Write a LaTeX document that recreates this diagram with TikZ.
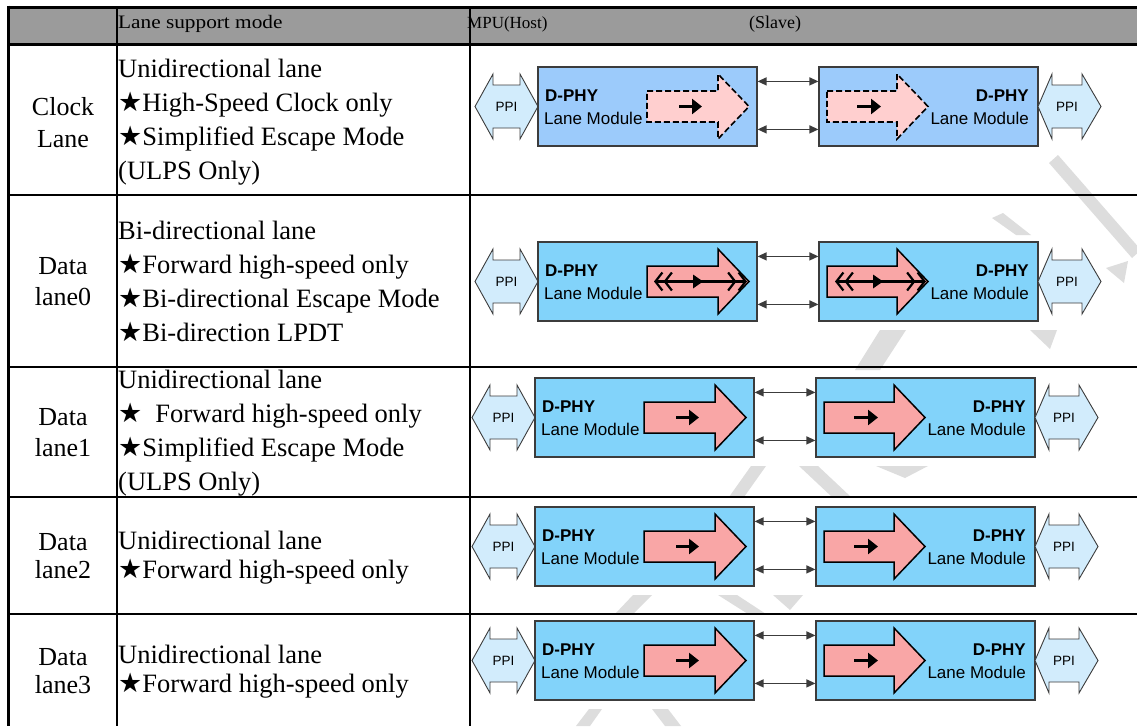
\documentclass[tikz,border=0pt]{standalone}
\usepackage{fontspec}
\setmainfont{Liberation Serif}
\newfontfamily\diagfont{Liberation Sans}
\newfontfamily\starfont{DejaVu Sans}
\usetikzlibrary{arrows.meta}

\definecolor{hdrgray}{HTML}{9B9B9B}
\definecolor{clkblue}{HTML}{9CCBFB}
\definecolor{datblue}{HTML}{82D3FA}
\definecolor{ppiblue}{HTML}{D2ECFC}
\definecolor{clkpink}{HTML}{FFCFCF}
\definecolor{datpink}{HTML}{F9A6A6}
\definecolor{edge}{HTML}{3C3C3C}
\definecolor{stamp}{HTML}{DDDDDD}

\newcommand\st{{\starfont\fontsize{27}{27}\selectfont ★}}

\tikzset{
  outerrule/.style={line width=3pt, black},
  cellrule/.style={line width=2pt, black},
  hdrtext/.style={inner sep=0pt, anchor=west, font=\fontsize{17}{20}\selectfont},
  bodytext/.style={inner sep=0pt, anchor=west, align=left},
  lanename/.style={inner sep=0pt, align=center},
  lanebox/.style={draw=edge, line width=1.2pt, minimum width=219pt, minimum height=79pt, inner sep=0pt},
  ppishape/.style={draw=edge, line width=0.9pt, fill=ppiblue, line join=miter},
  ppitext/.style={inner sep=0pt, font=\diagfont\fontsize{13.5}{14}\selectfont},
  modtext/.style={inner sep=0pt, font=\diagfont\fontsize{17}{18}\selectfont},
  wire/.style={draw=edge, line width=1.3pt, {Triangle[length=9pt,width=8pt]}-{Triangle[length=9pt,width=8pt]}},
  hsarrow/.style={draw=black, line width=1.5pt, fill=datpink, line join=miter},
  lpsarrow/.style={draw=black, line width=1.6pt, dash pattern=on 6pt off 3pt, fill=clkpink},
  fwd/.style={line width=3pt, -{Triangle[length=10pt,width=15pt]}},
  bidir/.style={line width=2.2pt,
    {Straight Barb[length=7pt,width=18pt,sep=1pt] Straight Barb[length=7pt,width=18pt]}-{Straight Barb[length=7pt,width=18pt,sep=1pt] Straight Barb[length=7pt,width=18pt]}},
  stampmark/.style={fill=stamp, draw=none},
}

% #1 id, #2 top of boxes, #3 host box x, #4 slave box x, #5 box colour,
% #6 lane arrow style, #7 inner mark (0 = forward, 1 = bidirectional)
\newcommand\lanepair[7]{%
  \begin{scope}[shift={(#3,#2)}]
    \draw[ppishape] (-63,39.5) -- (-45,7) -- (-45,18) -- (-18,18) -- (-18,7) -- (0,39.5)
      -- (-18,72) -- (-18,61) -- (-45,61) -- (-45,72) -- cycle;
    \node[ppitext] (#1hppi) at (-31.5,39.5) {PPI};
    \node[lanebox, fill=#5] (#1h) at (109.5,39.5) {};
    \node[modtext, anchor=west] (#1hname) at (7,29) {\bfseries D-PHY};
    \node[modtext, anchor=west] (#1hmod) at (6,51) {Lane Module};
    \draw[#6] (109,24) -- (180,24) -- (180,7) -- (211,39.5) -- (180,72) -- (180,55) -- (109,55) -- cycle;
    \ifnum#7=0
      \draw[fwd] (141,39.5) -- (164,39.5);
    \else
      \draw[bidir] (115,39.5) -- (209,39.5);
      \fill (155,32.5) -- (165,39.5) -- (155,46.5) -- cycle;
    \fi
  \end{scope}
  \begin{scope}[shift={(#4,#2)}]
    \node[lanebox, fill=#5] (#1s) at (109.5,39.5) {};
    \draw[ppishape] (219,39.5) -- (233,7) -- (233,18) -- (263,18) -- (263,7) -- (282,39.5)
      -- (263,72) -- (263,61) -- (233,61) -- (233,72) -- cycle;
    \node[ppitext] (#1sppi) at (248,39.5) {PPI};
    \node[modtext, anchor=east] (#1sname) at (210,29) {\bfseries D-PHY};
    \node[modtext, anchor=east] (#1smod) at (210,51) {Lane Module};
    \draw[#6] (8,24) -- (78,24) -- (78,7) -- (109,39.5) -- (78,72) -- (78,55) -- (8,55) -- cycle;
    \ifnum#7=0
      \draw[fwd] (38,39.5) -- (62,39.5);
    \else
      \draw[bidir] (15,39.5) -- (107,39.5);
      \fill (54,32.5) -- (64,39.5) -- (54,46.5) -- cycle;
    \fi
  \end{scope}
  \draw[wire] ([yshift=-15pt]#1h.north east) -- ([yshift=-15pt]#1s.north west);
  \draw[wire] ([yshift=-63pt]#1h.north east) -- ([yshift=-63pt]#1s.north west);
}

\begin{document}
\begin{tikzpicture}[x=1pt, y=-1pt]
  \useasboundingbox (0,0) rectangle (1137,726);
  \fill[white] (0,0) rectangle (1137,726);

  % faint background stamp showing between the lane pictures
  \fill[stampmark] (1049,163) -- (1058,155) -- (1141,250) -- (1132,258) -- cycle;
  \fill[stampmark] (992,218) -- (1003,213) -- (1031,235) -- (1016,235) -- cycle;
  \fill[stampmark] (1106,268) -- (1128,261) -- (1124,283) -- cycle;
  \fill[stampmark] (880,330) -- (906,330) -- (880,370) -- (855,370) -- cycle;
  \fill[stampmark] (1030,330) -- (1057,330) -- (1050,349) -- cycle;
  \fill[stampmark] (751,466) -- (766,466) -- (744,497) -- (729,497) -- cycle;
  \fill[stampmark] (799,466) -- (818,466) -- (851,497) -- (832,497) -- cycle;
  \fill[stampmark] (876,466) -- (928,466) -- (905,478) -- cycle;
  \fill[stampmark] (633,595) -- (652,595) -- (633,614) -- (615,614) -- cycle;
  \fill[stampmark] (718,595) -- (737,595) -- (766,614) -- (748,614) -- cycle;
  \fill[stampmark] (773,595) -- (803,595) -- (790,610) -- cycle;
  \fill[stampmark] (589,709) -- (602,709) -- (590,726) -- (576,726) -- cycle;
  \fill[stampmark] (652,709) -- (668,709) -- (681,726) -- (665,726) -- cycle;

  % header band
  \fill[hdrgray] (8,7) rectangle (1137,44);
  \node[hdrtext] (hmode) at (118,24) {\scalebox{1.12}[1]{\fontsize{19}{20}\selectfont Lane support mode}};
  \node[hdrtext] (hhost) at (467,24) {MPU(Host)};
  \node[hdrtext] (hslave) at (749,24) {\fontsize{18}{20}\selectfont (Slave)};

  % table rules
  \draw[cellrule] (117,7) -- (117,726);
  \draw[cellrule] (470,7) -- (470,726);
  \foreach \yy in {195,367,497,614} \draw[cellrule] (8,\yy) -- (1137,\yy);
  \draw[outerrule] (8,7) -- (1137,7);
  \draw[outerrule] (8,44) -- (1137,44);
  \draw[outerrule] (8.5,5.5) -- (8.5,726);

  % lane names
  \node[lanename, font=\fontsize{26}{32}\selectfont] (n1) at (63,123) {Clock\\Lane};
  \node[lanename, font=\fontsize{26}{31}\selectfont] (n2) at (63,282) {Data\\lane0};
  \node[lanename, font=\fontsize{26}{31}\selectfont] (n3) at (63,433) {Data\\lane1};
  \node[lanename, font=\fontsize{26}{28}\selectfont] (n4) at (63,556) {Data\\lane2};
  \node[lanename, font=\fontsize{26}{28}\selectfont] (n5) at (63,671) {Data\\lane3};

  % supported modes
  \node[bodytext, font=\fontsize{26.5}{34}\selectfont] (m1) at (118,122)
    {Unidirectional lane\\\st High-Speed Clock only\\\st Simplified Escape Mode\\(ULPS Only)};
  \node[bodytext, font=\fontsize{26.5}{34}\selectfont] (m2) at (118,281)
    {Bi-directional lane\\\st Forward high-speed only\\\st Bi-directional Escape Mode\\\st Bi-direction LPDT};
  \node[bodytext, font=\fontsize{26.5}{34}\selectfont] (m3) at (118,433)
    {Unidirectional lane\\\st\hspace{13pt}Forward high-speed only\\\st Simplified Escape Mode\\(ULPS Only)};
  \node[bodytext, font=\fontsize{26.5}{29}\selectfont] (m4) at (118,558)
    {Unidirectional lane\\\st Forward high-speed only};
  \node[bodytext, font=\fontsize{26.5}{29}\selectfont] (m5) at (118,672)
    {Unidirectional lane\\\st Forward high-speed only};

  % lane diagrams
  \lanepair{clk}{67}{538}{819}{clkblue}{lpsarrow}{0}
  \lanepair{dz}{242}{538}{819}{datblue}{hsarrow}{1}
  \lanepair{da}{378}{535}{816}{datblue}{hsarrow}{0}
  \lanepair{db}{507}{535}{816}{datblue}{hsarrow}{0}
  \lanepair{dc}{621}{535}{816}{datblue}{hsarrow}{0}
\end{tikzpicture}
\end{document}
